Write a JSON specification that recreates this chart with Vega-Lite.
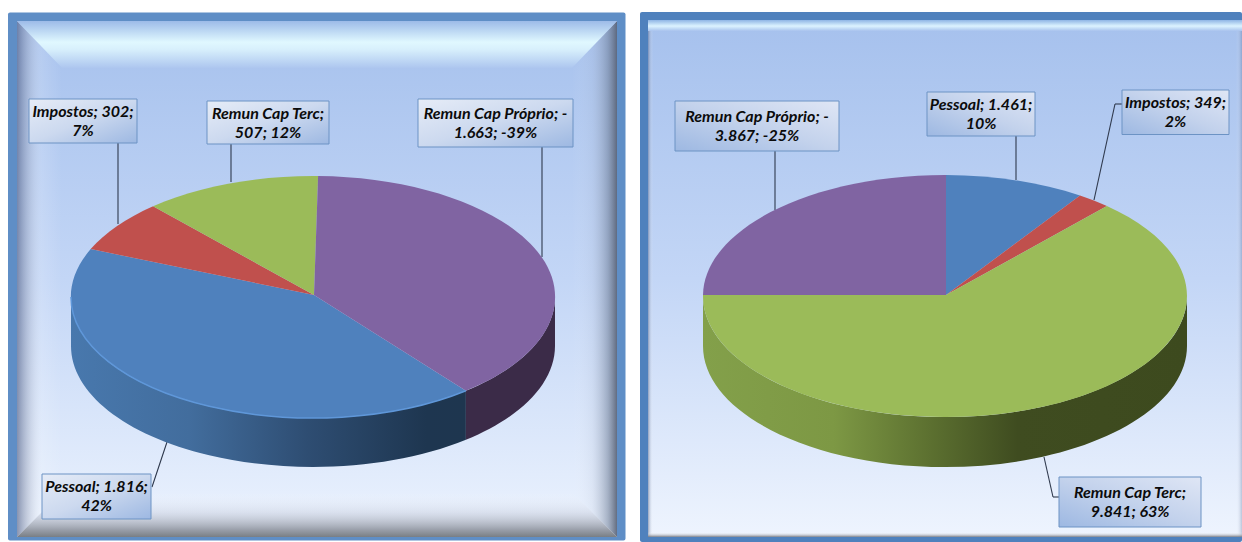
{
  "$schema": "https://vega.github.io/schema/vega-lite/v6.json",
  "background": "white",
  "padding": 0,
  "spacing": 0,
  "config": {"view": {"stroke": null}, "concat": {"spacing": 0}},
  "resolve": {"scale": {"shape": "independent"}},
  "datasets": {
    "fatias_a": [
      {"part": "Pessoal", "valor": 1816, "pct": 42, "x": 0, "y": 0},
      {"part": "Impostos", "valor": 302, "pct": 7, "x": 0, "y": 0},
      {"part": "Remun Cap Terc", "valor": 507, "pct": 12, "x": 0, "y": 0},
      {"part": "Remun Cap Próprio", "valor": -1663, "pct": -39, "x": 0, "y": 0}
    ],
    "fatias_b": [
      {"part": "Pessoal", "valor": 1461, "pct": 10, "x": 0, "y": 0},
      {"part": "Impostos", "valor": 349, "pct": 2, "x": 0, "y": 0},
      {"part": "Remun Cap Terc", "valor": 9841, "pct": 63, "x": 0, "y": 0},
      {"part": "Remun Cap Próprio", "valor": -3867, "pct": -25, "x": 0, "y": 0}
    ],
    "rotulos_a": [
      {"label": "Impostos; 302;\n7%", "x": -2.84, "x2": -1.76, "y": 1.98, "y2": 1.54, "tx": -2.3, "ty": 1.85},
      {"label": "Remun Cap Terc;\n507; 12%", "x": -1.06, "x2": 0.16, "y": 1.96, "y2": 1.53, "tx": -0.45, "ty": 1.83},
      {"label": "Remun Cap Próprio; -\n1.663; -39%", "x": 1.05, "x2": 2.6, "y": 1.98, "y2": 1.5, "tx": 1.825, "ty": 1.83},
      {"label": "Pessoal; 1.816;\n42%", "x": -2.71, "x2": -1.62, "y": -1.77, "y2": -2.22, "tx": -2.165, "ty": -1.9}
    ],
    "rotulos_b": [
      {"label": "Remun Cap Próprio; -\n3.867; -25%", "x": -2.71, "x2": -1.07, "y": 1.95, "y2": 1.45, "tx": -1.89, "ty": 1.79},
      {"label": "Pessoal; 1.461;\n10%", "x": -0.19, "x2": 0.89, "y": 2.04, "y2": 1.6, "tx": 0.35, "ty": 1.91},
      {"label": "Impostos; 349;\n2%", "x": 1.76, "x2": 2.83, "y": 2.06, "y2": 1.615, "tx": 2.295, "ty": 1.93},
      {"label": "Remun Cap Terc;\n9.841; 63%", "x": 1.13, "x2": 2.55, "y": -1.81, "y2": -2.31, "tx": 1.84, "ty": -1.97}
    ],
    "guias_a": [
      {"x": -1.95, "y": 1.54, "x2": -1.95, "y2": 0.73},
      {"x": -0.82, "y": 1.53, "x2": -0.82, "y2": 1.15},
      {"x": 2.29, "y": 1.5, "x2": 2.29, "y2": 0.4},
      {"x": -1.46, "y": -1.45, "x2": -1.61, "y2": -1.9}
    ],
    "guias_b": [
      {"x": -1.71, "y": 1.45, "x2": -1.71, "y2": 0.86},
      {"x": 0.7, "y": 1.6, "x2": 0.7, "y2": 1.16},
      {"x": 1.76, "y": 1.92, "x2": 1.69, "y2": 1.92},
      {"x": 1.69, "y": 1.92, "x2": 1.48, "y2": 0.96},
      {"x": 0.98, "y": -1.61, "x2": 1.07, "y2": -2.01},
      {"x": 1.07, "y": -2.01, "x2": 1.13, "y2": -2.01}
    ]
  },
  "hconcat": [
    {
      "width": 630,
      "height": 542,
      "encoding": {
        "x": {"field": "x", "type": "quantitative", "axis": null, "scale": {"domain": [-3.13, 3.17], "nice": false, "zero": false}},
        "y": {"field": "y", "type": "quantitative", "axis": null, "scale": {"domain": [-2.45, 2.97], "nice": false, "zero": false}}
      },
      "layer": [
        {
          "data": {"values": [{"x": -3.05, "x2": 3.125, "y": 2.845, "y2": -2.435}]},
          "mark": {"type": "rect", "color": "#5f8ec6", "cornerRadius": 2},
          "encoding": {"x2": {"field": "x2"}, "y2": {"field": "y2"}}
        },
        {
          "data": {"values": [{"x": -2.96, "x2": 3.04, "y": 2.76, "y2": -2.4}]},
          "mark": {"type": "rect", "color": {"gradient": "linear", "x1": 0, "y1": 0, "x2": 0, "y2": 1, "stops": [
            {"offset": 0, "color": "#a6c1ed"}, {"offset": 0.5, "color": "#c3d6f6"}, {"offset": 1, "color": "#ecf3fe"}]}},
          "encoding": {"x2": {"field": "x2"}, "y2": {"field": "y2"}}
        },
        {
          "encoding": {
            "size": {"value": 4},
            "shape": {
              "field": "part", "type": "nominal", "legend": null,
              "scale": {
                "domain": ["Pessoal", "Impostos", "Remun Cap Terc", "Remun Cap Próprio", "lateral Pessoal", "lateral Próprio", "aro", "topo", "base", "esquerda", "direita"],
                "range": [
                  "M1,-2L152.9,93.8A242,121 0 0 1 -222.3,-47.9Z",
                  "M1,-2L-222.3,-47.9A242,121 0 0 1 -159.9,-90.8Z",
                  "M1,-2L-159.9,-90.8A242,121 0 0 1 5.1,-121Z",
                  "M1,-2L5.1,-121A242,121 0 0 1 152.9,93.8Z",
                  "M152.9,93.8A242,121 0 0 1 -242,0L-242,49A242,121 0 0 0 152.9,142.8Z",
                  "M242,0A242,121 0 0 1 152.9,93.8L152.9,142.8A242,121 0 0 0 242,49Z",
                  "M152.9,93.8A242,121 0 0 1 -242,0",
                  "M-296,-276L304,-276L259,-229L-251,-229Z",
                  "M-296,240L304,240L259,195L-251,195Z",
                  "M-296,-276L-251,-229L-251,195L-296,240Z",
                  "M304,-276L259,-229L259,195L304,240Z"
                ]
              }
            }
          },
          "layer": [
            {
              "data": {"values": [{"part": "esquerda", "x": 0, "y": 0}]},
              "mark": {"type": "point", "filled": true, "opacity": 1, "strokeWidth": 0, "fill": {"gradient": "linear", "x1": 0, "y1": 0, "x2": 1, "y2": 0, "stops": [
                {"offset": 0, "color": "rgba(70,85,125,0.6)"}, {"offset": 0.55, "color": "rgba(255,255,255,0.15)"}, {"offset": 1, "color": "rgba(255,255,255,0)"}]}}
            },
            {
              "data": {"values": [{"part": "direita", "x": 0, "y": 0}]},
              "mark": {"type": "point", "filled": true, "opacity": 1, "strokeWidth": 0, "fill": {"gradient": "linear", "x1": 0, "y1": 0, "x2": 1, "y2": 0, "stops": [
                {"offset": 0, "color": "rgba(255,255,255,0)"}, {"offset": 0.45, "color": "rgba(170,180,200,0.15)"}, {"offset": 0.8, "color": "rgba(110,125,150,0.55)"}, {"offset": 1, "color": "rgba(85,95,115,0.9)"}]}}
            },
            {
              "data": {"values": [{"part": "base", "x": 0, "y": 0}]},
              "mark": {"type": "point", "filled": true, "opacity": 1, "strokeWidth": 0, "fill": {"gradient": "linear", "x1": 0, "y1": 0, "x2": 0, "y2": 1, "stops": [
                {"offset": 0, "color": "rgba(255,255,255,0)"}, {"offset": 0.45, "color": "rgba(190,195,210,0.35)"}, {"offset": 0.85, "color": "rgba(130,135,145,0.8)"}, {"offset": 1, "color": "rgba(115,120,125,0.95)"}]}}
            },
            {
              "data": {"values": [{"part": "topo", "x": 0, "y": 0}]},
              "mark": {"type": "point", "filled": true, "opacity": 1, "strokeWidth": 0, "fill": {"gradient": "linear", "x1": 0, "y1": 0, "x2": 0, "y2": 1, "stops": [
                {"offset": 0, "color": "#9dbbe8"}, {"offset": 0.45, "color": "#e0f8ff"}, {"offset": 0.6, "color": "#d8f0fc"}, {"offset": 1, "color": "#adc6ef"}]}}
            }
          ]
        },
        {
          "data": {"name": "guias_a"},
          "mark": {"type": "rule", "color": "#2f394d", "strokeWidth": 1.1},
          "encoding": {"x2": {"field": "x2"}, "y2": {"field": "y2"}}
        },
        {
          "encoding": {
            "size": {"value": 4},
            "shape": {
              "field": "part", "type": "nominal", "legend": null,
              "scale": {
                "domain": ["Pessoal", "Impostos", "Remun Cap Terc", "Remun Cap Próprio", "lateral Pessoal", "lateral Próprio", "aro", "topo", "base", "esquerda", "direita"],
                "range": [
                  "M1,-2L152.9,93.8A242,121 0 0 1 -222.3,-47.9Z",
                  "M1,-2L-222.3,-47.9A242,121 0 0 1 -159.9,-90.8Z",
                  "M1,-2L-159.9,-90.8A242,121 0 0 1 5.1,-121Z",
                  "M1,-2L5.1,-121A242,121 0 0 1 152.9,93.8Z",
                  "M152.9,93.8A242,121 0 0 1 -242,0L-242,49A242,121 0 0 0 152.9,142.8Z",
                  "M242,0A242,121 0 0 1 152.9,93.8L152.9,142.8A242,121 0 0 0 242,49Z",
                  "M152.9,93.8A242,121 0 0 1 -242,0",
                  "M-296,-276L304,-276L259,-229L-251,-229Z",
                  "M-296,240L304,240L259,195L-251,195Z",
                  "M-296,-276L-251,-229L-251,195L-296,240Z",
                  "M304,-276L259,-229L259,195L304,240Z"
                ]
              }
            }
          },
          "layer": [
            {
              "data": {"values": [{"part": "lateral Pessoal", "x": 0, "y": 0}]},
              "mark": {"type": "point", "filled": true, "opacity": 1, "strokeWidth": 0, "fill": {"gradient": "linear", "x1": 0, "y1": 0, "x2": 1, "y2": 0, "stops": [
                {"offset": 0, "color": "#4878ad"}, {"offset": 0.3, "color": "#426d9d"}, {"offset": 0.6, "color": "#2e4d72"}, {"offset": 0.9, "color": "#1e3650"}, {"offset": 1, "color": "#1e364f"}]}}
            },
            {
              "data": {"values": [{"part": "lateral Próprio", "x": 0, "y": 0}]},
              "mark": {"type": "point", "filled": true, "opacity": 1, "strokeWidth": 0, "fill": "#3b2b48"}
            },
            {
              "data": {"name": "fatias_a"},
              "mark": {"type": "point", "filled": true, "opacity": 1, "strokeWidth": 0},
              "encoding": {
                "color": {"field": "part", "type": "nominal", "legend": null, "scale": {
                  "domain": ["Pessoal", "Impostos", "Remun Cap Terc", "Remun Cap Próprio"],
                  "range": ["#4f81bd", "#c0504d", "#9bbb59", "#8064a2"]}}
              }
            },
            {
              "data": {"values": [{"part": "aro", "x": 0, "y": 0}]},
              "mark": {"type": "point", "filled": false, "opacity": 1, "stroke": "#5f97d9", "strokeWidth": 1.5}
            }
          ]
        },
        {
          "data": {"name": "rotulos_a"},
          "mark": {"type": "rect", "stroke": "#6c93c4", "strokeWidth": 1, "color": {"gradient": "linear", "x1": 0, "y1": 0, "x2": 1, "y2": 1, "stops": [
            {"offset": 0, "color": "#e6ecf7"}, {"offset": 0.5, "color": "#ccd9ef"}, {"offset": 1, "color": "#9db8e2"}]}},
          "encoding": {"x2": {"field": "x2"}, "y2": {"field": "y2"}}
        },
        {
          "data": {"name": "rotulos_a"},
          "mark": {"type": "text", "font": "Lato", "fontSize": 16, "fontWeight": "bold", "fontStyle": "italic", "color": "#0b0b0b", "lineBreak": "\n", "lineHeight": 19, "align": "center", "baseline": "middle"},
          "encoding": {
            "x": {"field": "tx", "type": "quantitative", "axis": null},
            "y": {"field": "ty", "type": "quantitative", "axis": null},
            "text": {"field": "label"}
          }
        }
      ]
    },
    {
      "width": 612,
      "height": 542,
      "encoding": {
        "x": {"field": "x", "type": "quantitative", "axis": null, "scale": {"domain": [-3.16, 2.96], "nice": false, "zero": false}},
        "y": {"field": "y", "type": "quantitative", "axis": null, "scale": {"domain": [-2.46, 2.96], "nice": false, "zero": false}}
      },
      "layer": [
        {
          "data": {"values": [{"x": -3.06, "x2": 2.96, "y": 2.84, "y2": -2.46}]},
          "mark": {"type": "rect", "color": "#4f81bd", "cornerRadius": 2},
          "encoding": {"x2": {"field": "x2"}, "y2": {"field": "y2"}}
        },
        {
          "data": {"values": [{"x": -2.98, "x2": 2.96, "y": 2.76, "y2": -2.41}]},
          "mark": {"type": "rect", "color": {"gradient": "linear", "x1": 0, "y1": 0, "x2": 0, "y2": 1, "stops": [
            {"offset": 0, "color": "#a6c1ed"}, {"offset": 0.5, "color": "#c3d6f6"}, {"offset": 1, "color": "#eef4fe"}]}},
          "encoding": {"x2": {"field": "x2"}, "y2": {"field": "y2"}}
        },
        {
          "data": {"values": [{"x": -2.98, "x2": 2.96, "y": 2.76, "y2": 2.65}]},
          "mark": {"type": "rect", "color": {"gradient": "linear", "x1": 0, "y1": 0, "x2": 0, "y2": 1, "stops": [
            {"offset": 0, "color": "#8fb5e5"}, {"offset": 0.55, "color": "#dcf3ff"}, {"offset": 1, "color": "#a9c3ee"}]}},
          "encoding": {"x2": {"field": "x2"}, "y2": {"field": "y2"}}
        },
        {
          "data": {"values": [{"x": -2.98, "x2": -2.93, "y": 2.65, "y2": -2.41}]},
          "mark": {"type": "rect", "color": {"gradient": "linear", "x1": 0, "y1": 0, "x2": 1, "y2": 0, "stops": [
            {"offset": 0, "color": "rgba(80,100,140,0.55)"}, {"offset": 1, "color": "rgba(255,255,255,0)"}]}},
          "encoding": {"x2": {"field": "x2"}, "y2": {"field": "y2"}}
        },
        {
          "data": {"values": [{"x": 2.9, "x2": 2.96, "y": 2.65, "y2": -2.41}]},
          "mark": {"type": "rect", "color": {"gradient": "linear", "x1": 0, "y1": 0, "x2": 1, "y2": 0, "stops": [
            {"offset": 0, "color": "rgba(255,255,255,0)"}, {"offset": 1, "color": "rgba(90,110,150,0.35)"}]}},
          "encoding": {"x2": {"field": "x2"}, "y2": {"field": "y2"}}
        },
        {
          "data": {"values": [{"x": -2.98, "x2": 2.96, "y": -2.36, "y2": -2.41}]},
          "mark": {"type": "rect", "color": {"gradient": "linear", "x1": 0, "y1": 0, "x2": 0, "y2": 1, "stops": [
            {"offset": 0, "color": "rgba(255,255,255,0)"}, {"offset": 1, "color": "rgba(110,115,125,0.9)"}]}},
          "encoding": {"x2": {"field": "x2"}, "y2": {"field": "y2"}}
        },
        {
          "data": {"name": "guias_b"},
          "mark": {"type": "rule", "color": "#2f394d", "strokeWidth": 1.1},
          "encoding": {"x2": {"field": "x2"}, "y2": {"field": "y2"}}
        },
        {
          "encoding": {
            "size": {"value": 4},
            "shape": {
              "field": "part", "type": "nominal", "legend": null,
              "scale": {
                "domain": ["Pessoal", "Impostos", "Remun Cap Terc", "Remun Cap Próprio", "lateral Terc"],
                "range": [
                  "M0,-1L0,-121A242,121 0 0 1 134,-100.4Z",
                  "M0,-1L134,-100.4A242,121 0 0 1 160.9,-89.9Z",
                  "M0,-1L160.9,-89.9A242,121 0 1 1 -243,-1Z",
                  "M0,-1L-243,-1A242,121 0 0 1 0,-121Z",
                  "M241,0A242,121 0 0 1 -243,0L-243,50A242,121 0 0 0 241,50Z"
                ]
              }
            }
          },
          "layer": [
            {
              "data": {"values": [{"part": "lateral Terc", "x": 0, "y": 0}]},
              "mark": {"type": "point", "filled": true, "opacity": 1, "strokeWidth": 0, "fill": {"gradient": "linear", "x1": 0, "y1": 0, "x2": 1, "y2": 0, "stops": [
                {"offset": 0, "color": "#83a04a"}, {"offset": 0.27, "color": "#7d9844"}, {"offset": 0.47, "color": "#5c7030"}, {"offset": 0.65, "color": "#3f4c20"}, {"offset": 1, "color": "#3d4a1e"}]}}
            },
            {
              "data": {"name": "fatias_b"},
              "mark": {"type": "point", "filled": true, "opacity": 1, "strokeWidth": 0},
              "encoding": {
                "color": {"field": "part", "type": "nominal", "legend": null, "scale": {
                  "domain": ["Pessoal", "Impostos", "Remun Cap Terc", "Remun Cap Próprio"],
                  "range": ["#4f81bd", "#c0504d", "#9bbb59", "#8064a2"]}}
              }
            }
          ]
        },
        {
          "data": {"name": "rotulos_b"},
          "mark": {"type": "rect", "stroke": "#6c93c4", "strokeWidth": 1, "color": {"gradient": "linear", "x1": 0, "y1": 1, "x2": 1, "y2": 0, "stops": [
            {"offset": 0, "color": "#9db8e2"}, {"offset": 0.5, "color": "#c3d2ec"}, {"offset": 1, "color": "#dfe6f5"}]}},
          "encoding": {"x2": {"field": "x2"}, "y2": {"field": "y2"}}
        },
        {
          "data": {"name": "rotulos_b"},
          "mark": {"type": "text", "font": "Lato", "fontSize": 16, "fontWeight": "bold", "fontStyle": "italic", "color": "#0b0b0b", "lineBreak": "\n", "lineHeight": 19, "align": "center", "baseline": "middle"},
          "encoding": {
            "x": {"field": "tx", "type": "quantitative", "axis": null},
            "y": {"field": "ty", "type": "quantitative", "axis": null},
            "text": {"field": "label"}
          }
        }
      ]
    }
  ]
}
